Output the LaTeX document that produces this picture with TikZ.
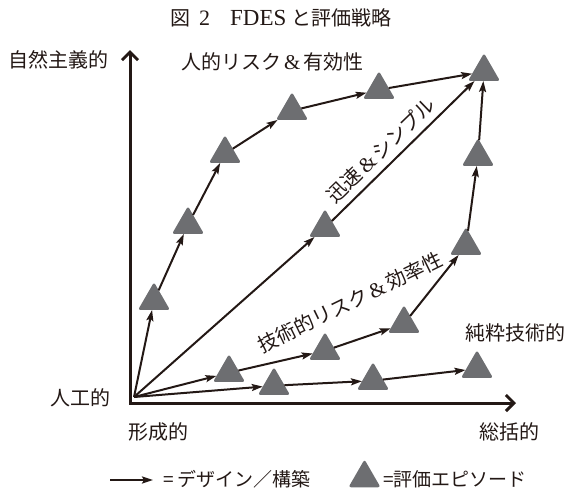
\documentclass[tikz,border=0pt]{standalone}
\usepackage{fontspec}
\setmainfont{Liberation Serif}
\newfontfamily\jp{Noto Sans CJK JP}
\usetikzlibrary{arrows.meta,shapes.geometric}
\definecolor{ink}{HTML}{231815}
\definecolor{tri}{HTML}{6D6E71}
\newcommand{\amp}{\hspace{3pt}{\rmfamily\fontsize{21}{21}\selectfont\&}\hspace{3pt}}
\tikzset{
  episode/.style={regular polygon, regular polygon sides=3, minimum size=37pt,
    inner sep=0pt, outer sep=0pt, fill=tri, draw=none, rounded corners=2.5pt},
  flow/.style={draw=ink, line width=2pt, -{Stealth[length=11pt,width=7pt,inset=2pt]}},
  axes/.style={draw=ink, line width=3pt,
    {Straight Barb[length=8pt,width=16pt]}-{Straight Barb[length=8pt,width=16pt]}},
  lbl/.style={font=\jp\fontsize{20}{20}\selectfont, text=ink, inner sep=0pt},
  leg/.style={font=\jp\fontsize{19}{19}\selectfont, text=ink, inner sep=0pt}
}
\begin{document}
\begin{tikzpicture}[x=1pt,y=-1pt]
\useasboundingbox (0,0) rectangle (572,488);
% axes
\coordinate (ax) at (130,403);
\coordinate (ytop) at (130,50);
\coordinate (xend) at (516,403);
\draw[axes] (ytop) -- (ax) -- (xend);
% episodes
\node[episode] (t1) at (154,300.7) {};
\node[episode] (t2) at (188,224.7) {};
\node[episode] (t3) at (225,153.7) {};
\node[episode] (t4) at (292,110.7) {};
\node[episode] (t5) at (379,89.7) {};
\node[episode] (t6) at (484,71.7) {};
\node[episode] (t7) at (325,227.7) {};
\node[episode] (t8) at (229,372.7) {};
\node[episode] (t9) at (325,350.7) {};
\node[episode] (t10) at (404,323.7) {};
\node[episode] (t11) at (466,245.7) {};
\node[episode] (t12) at (478,156.7) {};
\node[episode] (t13) at (274,385.7) {};
\node[episode] (t14) at (373,380.7) {};
\node[episode] (t15) at (477,368.7) {};
% flows
\coordinate (o) at (134,397);
\draw[flow] (o) -- (t1);
\draw[flow] (t1) -- (t2);
\draw[flow] (t2) -- (t3);
\draw[flow] (t3) -- (t4);
\draw[flow] (t4) -- (t5);
\draw[flow] (t5) -- (t6);
\draw[flow] (o) -- (t7);
\draw[flow] (t7) -- (t6);
\draw[flow] (o) -- (t8);
\draw[flow] (t8) -- (t9);
\draw[flow] (t9) -- (t10);
\draw[flow] (t10) -- (t11);
\draw[flow] (t11) -- (t12);
\draw[flow] (t12) -- (t6);
\draw[flow] (o) -- (t13);
\draw[flow] (t13) -- (t14);
\draw[flow] (t14) -- (t15);
% labels
\node[lbl, anchor=west] (title) at (170,18) {図\hspace{9pt}{\rmfamily\fontsize{22}{22}\selectfont 2}\hspace{20pt}{\rmfamily\fontsize{23}{23}\selectfont FDES}\hspace{5pt}と評価戦略};
\node[lbl, anchor=west] (nat) at (8,60) {自然主義的};
\node[lbl, anchor=west] (hr) at (181,62) {人的リスク\amp 有効性};
\node[lbl, rotate=44] (fast) at (381,150) {迅速\amp シンプル};
\node[lbl, rotate=26] (tech) at (350,302) {技術的リスク\amp 効率性};
\node[lbl, anchor=west] (pure) at (465,333) {純粋技術的};
\node[lbl, anchor=west] (art) at (50,398) {人工的};
\node[lbl, anchor=west] (form) at (128,432) {形成的};
\node[lbl, anchor=west] (summ) at (479,432) {総括的};
% legend
\coordinate (la) at (110,480);
\coordinate (lb) at (153,480);
\draw[flow] (la) -- (lb);
\node[leg, anchor=west] (l1) at (163,479) {= デザイン／構築};
\node[episode] (lt) at (364.5,478) {};
\node[leg, anchor=west] (l2) at (383,479) {=評価エピソード};
\end{tikzpicture}
\end{document}
